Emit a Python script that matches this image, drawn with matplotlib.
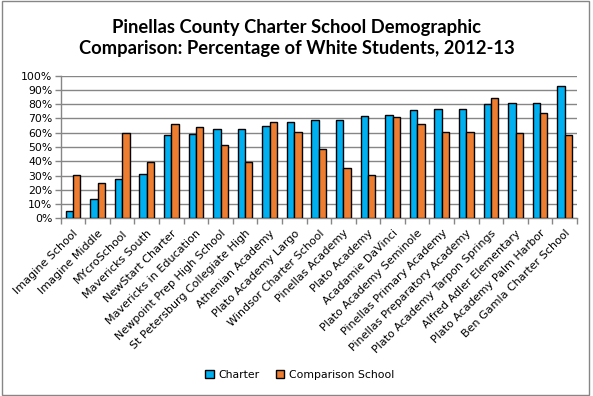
import numpy as np
import matplotlib
matplotlib.use('Agg')
import matplotlib.pyplot as plt
from matplotlib.patches import Rectangle

schools = ['Imagine School', 'Imagine Middle', 'MYcroSchool', 'Mavericks South',
           'NewStart Charter', 'Mavericks in Education', 'Newpoint Prep High School',
           'St Petersburg Collegiate High', 'Athenian Academy', 'Plato Academy Largo',
           'Windsor Charter School', 'Pinellas Academy', 'Plato Academy',
           'Acadamie DaVinci', 'Plato Academy Seminole', 'Pinellas Primary Academy',
           'Pinellas Preparatory Academy', 'Plato Academy Tarpon Springs',
           'Alfred Adler Elementary', 'Plato Academy Palm Harbor', 'Ben Gamla Charter School']
charter = [5.2, 13.6, 27.6, 31.1, 58.5, 59.3, 62.8, 62.8, 64.9, 67.7,
           68.9, 68.9, 71.8, 72.5, 76.0, 76.7, 76.7, 80.2, 80.9, 80.9, 92.9]
comparison = [30.4, 24.8, 60.0, 39.6, 66.3, 64.2, 51.5, 39.8, 67.7, 60.7,
              48.5, 35.1, 30.1, 71.1, 66.1, 60.5, 60.5, 84.5, 59.8, 73.9, 58.4]
yticks = list(range(0, 101, 10))

blue = '#00B0F0'
orange = '#ED7D31'
grey = '#868686'

fig = plt.figure(figsize=(5.93, 3.96), dpi=100)
fig.patches.append(Rectangle((0.004, 0.003), 0.99, 0.994, transform=fig.transFigure,
                             fill=False, edgecolor=grey, linewidth=1.0))

ax = fig.add_axes([0.1024, 0.4487, 0.8706, 0.3601])
x = np.arange(len(schools))
w = 0.3
ax.bar(x - w / 2, charter, w, color=blue, edgecolor='black', linewidth=1.0,
       label='Charter', zorder=3)
ax.bar(x + w / 2, comparison, w, color=orange, edgecolor='black', linewidth=1.0,
       label='Comparison School', zorder=3)

ax.set_xlim(-0.5, len(schools) - 0.5)
ax.set_ylim(0, 100)
ax.set_yticks(yticks)
ax.set_yticklabels([f'{v}%' for v in yticks], fontsize=7.8)
ax.yaxis.grid(True, color=grey, linewidth=1.0, zorder=0)
ax.set_axisbelow(True)

# labels at category centres, tick marks at the boundaries
ax.set_xticks(x)
ax.set_xticklabels(schools, rotation=45, ha='right', rotation_mode='anchor', fontsize=8)
ax.tick_params(axis='x', which='major', length=0, pad=7)
ax.set_xticks(np.arange(-0.5, len(schools), 1), minor=True)
ax.tick_params(axis='x', which='minor', length=4, color=grey, width=1)
ax.tick_params(axis='y', length=4, color=grey, width=1, pad=2)

for s in ['top', 'right']:
    ax.spines[s].set_visible(False)
for s in ['left', 'bottom']:
    ax.spines[s].set_color(grey)
    ax.spines[s].set_linewidth(1.0)

fig.text(0.5, 0.905, 'Pinellas County Charter School Demographic\n'
         'Comparison: Percentage of White Students, 2012-13',
         ha='center', va='center', fontsize=13.2, fontweight='bold',
         family='Lato', linespacing=1.3)

fig.legend(loc='center', bbox_to_anchor=(0.505, 0.053), ncol=2, frameon=False,
           fontsize=7.8, handlelength=0.8, handleheight=0.8, handletextpad=0.4,
           columnspacing=1.5)

fig.savefig('out.png', dpi=100)
